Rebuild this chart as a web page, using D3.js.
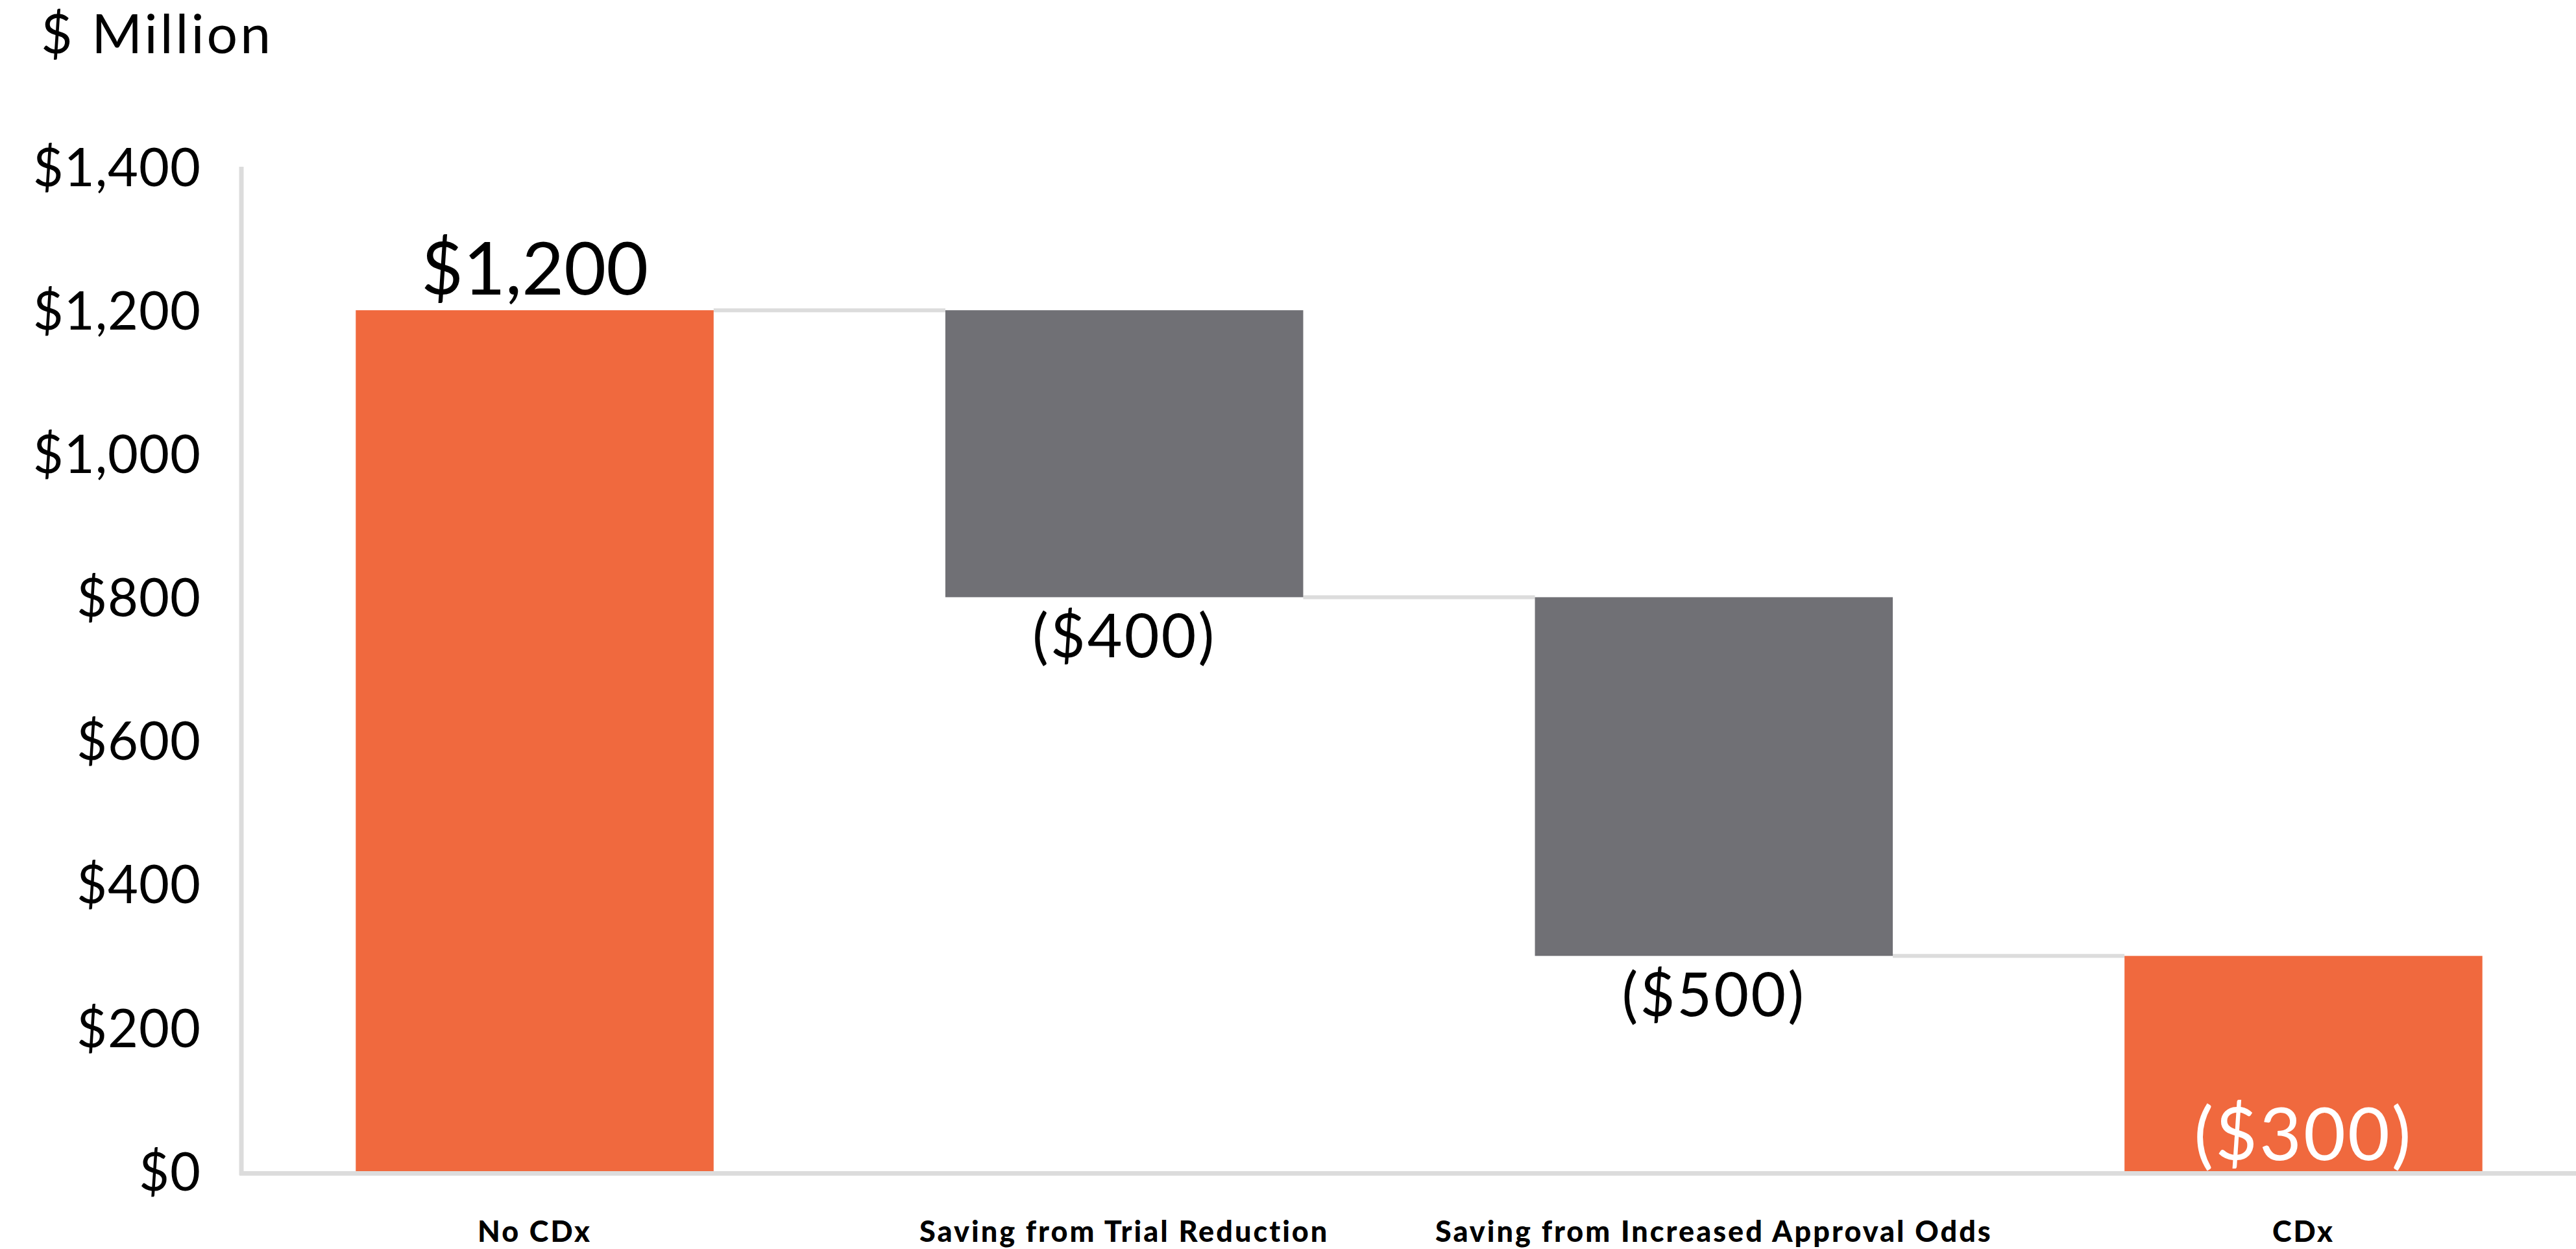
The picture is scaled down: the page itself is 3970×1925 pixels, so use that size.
<!DOCTYPE html>
<html>
<head>
<meta charset="utf-8">
<script src="https://cdn.jsdelivr.net/npm/d3@7"></script>
<style>
  html, body { margin: 0; padding: 0; background: #fff; }
  svg { display: block; font-family: Lato, "Open Sans", sans-serif; }
</style>
</head>
<body>
<svg id="chart" width="3970" height="1925"></svg>
<script>
"use strict";

// chart data
const categories = ["No CDx", "Saving from Trial Reduction", "Saving from Increased Approval Odds", "CDx"];
const values = [1200, -400, -500, 300];
const kinds = ["total", "delta", "delta", "total"];
const valueLabels = ["$1,200", "($400)", "($500)", "($300)"];
const yTicks = [0, 200, 400, 600, 800, 1000, 1200, 1400];

const COLORS = {
  orange: "#F0693E",
  grey: "#707075",
  axis: "#dcdcdc"
};

const width = 3970, height = 1925;
const svg = d3.select("#chart");

const x = d3.scaleBand()
  .domain(categories)
  .range([372, 4002])
  .paddingInner(0.393)
  .paddingOuter(0.194);

const y = d3.scaleLinear()
  .domain([0, 1400])
  .range([1805, 257]);

// build waterfall segments (start/end of each bar)
let running = 0;
const bars = categories.map((c, i) => {
  let start, end;
  if (kinds[i] === "total") {
    start = 0;
    end = values[i];
    running = values[i];
  } else {
    start = running;
    end = running + values[i];
    running = end;
  }
  return { cat: c, start, end, kind: kinds[i], label: valueLabels[i], level: running };
});

// connector lines between bars
const connectors = [];
for (let i = 0; i < bars.length - 1; ++i) {
  connectors.push({ from: bars[i].cat, to: bars[i + 1].cat, v: bars[i].level });
}
svg.append("g")
  .selectAll("line")
  .data(connectors)
  .join("line")
  .attr("x1", d => x(d.from) + x.bandwidth())
  .attr("x2", d => x(d.to))
  .attr("y1", d => y(d.v))
  .attr("y2", d => y(d.v))
  .style("stroke", COLORS.axis)
  .style("stroke-width", 6);

// bars
svg.append("g")
  .selectAll("rect")
  .data(bars)
  .join("rect")
  .attr("x", d => x(d.cat))
  .attr("width", x.bandwidth())
  .attr("y", d => y(Math.max(d.start, d.end)))
  .attr("height", d => Math.abs(y(d.start) - y(d.end)))
  .style("fill", d => d.kind === "total" ? COLORS.orange : COLORS.grey);

// y axis
const yAxis = svg.append("g")
  .attr("transform", "translate(372,0)")
  .call(d3.axisLeft(y).tickValues(yTicks).tickSize(0).tickPadding(62).tickFormat(d3.format("$,")));
yAxis.select(".domain").remove();
yAxis.selectAll("text")
  .attr("dy", "0.36em")
  .style("font-family", "Lato, sans-serif")
  .style("font-size", "81px")
  .style("letter-spacing", "1px")
  .style("fill", "#000");

// axis lines
svg.append("line")
  .attr("x1", 372).attr("x2", 372)
  .attr("y1", y(1400)).attr("y2", 1811)
  .style("stroke", COLORS.axis)
  .style("stroke-width", 7);
svg.append("line")
  .attr("x1", 369).attr("x2", width)
  .attr("y1", 1808.5).attr("y2", 1808.5)
  .style("stroke", COLORS.axis)
  .style("stroke-width", 7);

// x axis labels
const xAxis = svg.append("g")
  .attr("transform", "translate(0,1805)")
  .call(d3.axisBottom(x).tickSize(0).tickPadding(77));
xAxis.select(".domain").remove();
xAxis.selectAll("text")
  .style("font-family", "Lato, sans-serif")
  .style("font-weight", "900")
  .style("font-size", "45px")
  .style("letter-spacing", "3px")
  .style("fill", "#000");

// value labels
svg.append("g")
  .selectAll("text")
  .data(bars)
  .join("text")
  .attr("x", d => x(d.cat) + x.bandwidth() / 2)
  .attr("y", (d, i) => {
    if (d.kind === "delta") return y(Math.min(d.start, d.end)) + 93;
    if (i === 0) return y(d.end) - 24;
    return y(0) - 17;
  })
  .attr("text-anchor", "middle")
  .style("font-size", d => d.kind === "delta" ? "93px" : "112px")
  .style("letter-spacing", (d, i) => i === 0 ? "0px" : "3px")
  .style("fill", (d, i) => (d.kind === "total" && i > 0) ? "#fff" : "#000")
  .text(d => d.label);

// unit title
svg.append("text")
  .attr("x", 63)
  .attr("y", 82)
  .style("font-size", "84px")
  .style("letter-spacing", "4px")
  .text("$ Million");
</script>
</body>
</html>
